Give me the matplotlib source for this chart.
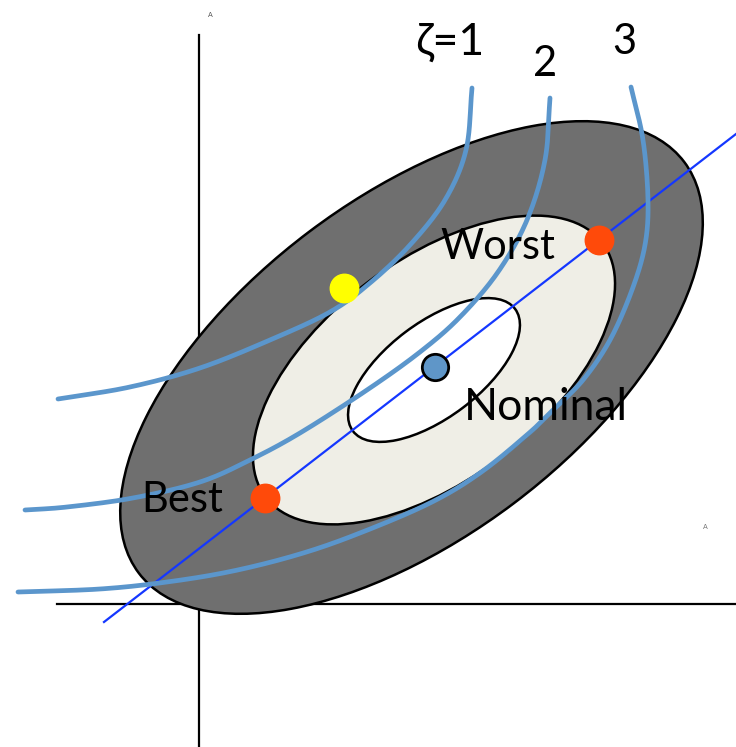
import matplotlib
matplotlib.use("Agg")
import matplotlib.pyplot as plt
from matplotlib.patches import Ellipse
import numpy as np

# ---- data (diagram coordinates in pixel space, y downward) ----
center_outer = (411.5, 367.5)
center_mid = (434, 370)
center_inner = (434, 370)
outer_axes = (683, 340)   # full width, height
mid_axes = (422, 220)
inner_axes = (203, 95)
tilt_deg = 37

zeta1_x = [472, 466, 445, 410, 370, 330, 270, 200, 130, 58]
zeta1_y = [88, 150, 200, 245, 283, 312, 340, 368, 387, 399]
zeta2_x = [550, 545, 527, 498, 460, 420, 367, 300, 250, 200, 133, 67, 25]
zeta2_y = [98, 160, 220, 272, 317, 352, 390, 433, 460, 482, 498, 507, 510]
zeta3_x = [631, 643, 648, 645, 632, 610, 583, 553, 528, 480, 430, 360, 300, 233, 167, 100, 18]
zeta3_y = [87, 140, 200, 245, 290, 340, 380, 410, 434, 473, 503, 533, 554, 571, 582, 589, 592]

line_x = [104, 736]
line_y = [622, 134]

worst_pt = (599, 240)
best_pt = (265, 498)
nominal_pt = (435, 367)
yellow_pt = (344, 288)

labels = ["ζ=1", "2", "3", "Worst", "Nominal", "Best"]
label_pos = [(450, 42), (545, 64), (624, 42), (498, 247), (546, 407), (182, 500)]
label_size = [32, 30, 30, 30, 32, 30]


def smooth(xs, ys, n=20):
    p = np.column_stack([xs, ys]).astype(float)
    p = np.vstack([2 * p[0] - p[1], p, 2 * p[-1] - p[-2]])
    out = []
    t = np.linspace(0, 1, n, endpoint=False)[:, None]
    for i in range(1, len(p) - 2):
        p0, p1, p2, p3 = p[i - 1], p[i], p[i + 1], p[i + 2]
        seg = 0.5 * ((2 * p1) + (-p0 + p2) * t + (2 * p0 - 5 * p1 + 4 * p2 - p3) * t ** 2
                     + (-p0 + 3 * p1 - 3 * p2 + p3) * t ** 3)
        out.append(seg)
    out.append(p[-2][None, :])
    out = np.vstack(out)
    return out[:, 0], out[:, 1]


fig = plt.figure(figsize=(7.36, 7.47), dpi=100)
ax = fig.add_axes([0, 0, 1, 1])
ax.set_xlim(0, 736)
ax.set_ylim(747, 0)
ax.axis("off")

# axes of the diagram
ax.plot([199, 199], [35, 747], color="black", lw=1.6, zorder=1)
ax.plot([57, 736], [604, 604], color="black", lw=1.6, zorder=1)

ax.add_patch(Ellipse(center_outer, outer_axes[0], outer_axes[1], angle=-tilt_deg,
                     facecolor="#6f6f6f", edgecolor="black", lw=1.8, zorder=2))
ax.add_patch(Ellipse(center_mid, mid_axes[0], mid_axes[1], angle=-tilt_deg,
                     facecolor="#efeee6", edgecolor="black", lw=1.8, zorder=3))
ax.add_patch(Ellipse(center_inner, inner_axes[0], inner_axes[1], angle=-tilt_deg,
                     facecolor="white", edgecolor="black", lw=1.8, zorder=4))

ax.plot(line_x, line_y, color="#1437ff", lw=1.6, zorder=5)

for xs, ys in [(zeta1_x, zeta1_y), (zeta2_x, zeta2_y), (zeta3_x, zeta3_y)]:
    sx, sy = smooth(xs, ys)
    ax.plot(sx, sy, color="#5b96cc", lw=3.4, solid_capstyle="round", zorder=6)

ax.scatter(*worst_pt, s=420, color="#ff4a0a", zorder=7)
ax.scatter(*best_pt, s=420, color="#ff4a0a", zorder=7)
ax.scatter(*yellow_pt, s=420, color="#ffff00", zorder=7)
ax.scatter(*nominal_pt, s=360, color="#5f96c8", edgecolor="black", linewidth=2, zorder=7)

for t, (x, y), fs in zip(labels, label_pos, label_size):
    ax.text(x, y, t, fontsize=fs, family=["Lato", "DejaVu Sans"], ha="center", va="center",
            color="black", zorder=8)

ax.text(210, 15, "A", fontsize=5, color="#555555", ha="center", va="center")
ax.text(705, 527, "A", fontsize=5, color="#777777", ha="center", va="center")

fig.savefig("out.png", dpi=100)
